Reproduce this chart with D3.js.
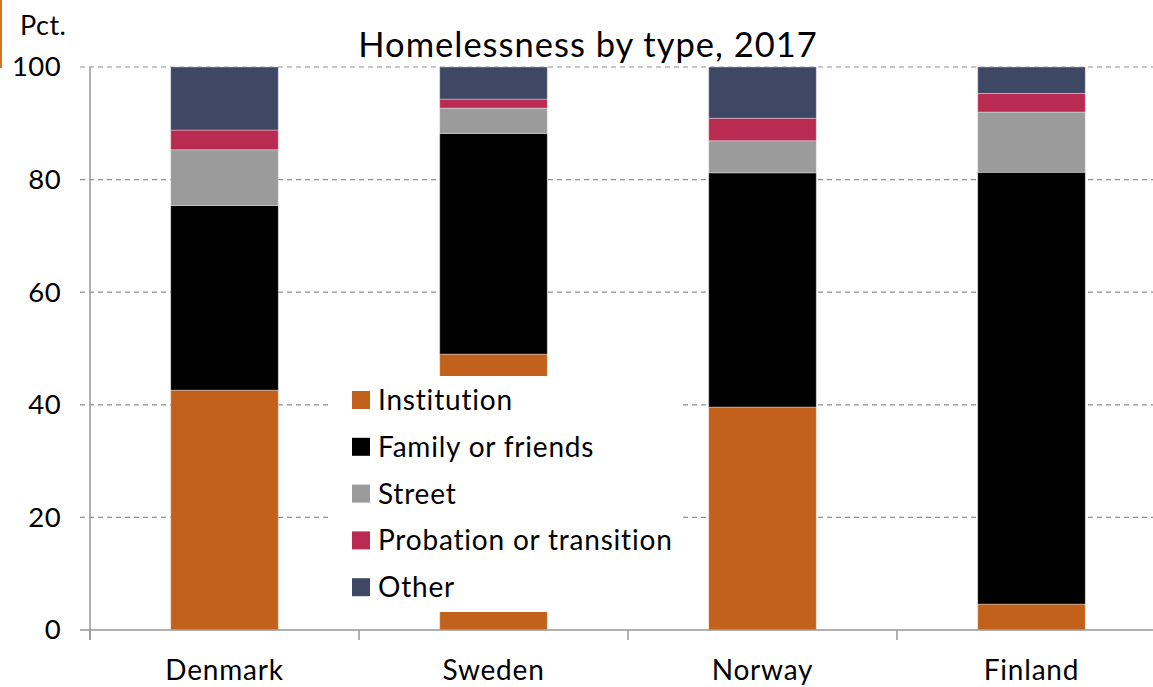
<!DOCTYPE html>
<html>
<head>
<meta charset="utf-8">
<script src="https://cdn.jsdelivr.net/npm/d3@7"></script>
<style>
  html, body { margin: 0; padding: 0; background: #fff; }
  svg { display: block; font-family: Lato, "Open Sans", sans-serif; }
</style>
</head>
<body>
<svg id="chart" width="1153" height="687"></svg>
<script>
const categories = ["Denmark", "Sweden", "Norway", "Finland"];
const seriesNames = ["Institution", "Family or friends", "Street", "Probation or transition", "Other"];
const institution = [42.6, 49.0, 39.6, 4.6];
const familyOrFriends = [32.8, 39.2, 41.6, 76.7];
const street = [9.9, 4.5, 5.7, 10.7];
const probation = [3.5, 1.6, 4.0, 3.3];
const other = [11.2, 5.7, 9.1, 4.7];
const yTicks = [0, 20, 40, 60, 80, 100];
const colors = ["#C1611C", "#000000", "#9B9B9B", "#BA2B51", "#3E4764"];

(function () {
const svg = d3.select("#chart");
const W = 1153;
const mLeft = 90, mRight = 1166, mTop = 67, mBottom = 630;

const x = d3.scaleBand().domain(categories).range([mLeft, mRight]).paddingInner(0.6).paddingOuter(0.3);
const y = d3.scaleLinear().domain([0, 100]).range([mBottom, mTop]);

const rows = categories.map((c, i) => ({
  cat: c,
  "Institution": institution[i],
  "Family or friends": familyOrFriends[i],
  "Street": street[i],
  "Probation or transition": probation[i],
  "Other": other[i]
}));
const stacked = d3.stack().keys(seriesNames)(rows);

// orange accent at top-left
svg.append("rect").attr("x", 0).attr("y", 0).attr("width", 2).attr("height", 68).attr("fill", "#D9731F");

// gridlines
svg.append("g").selectAll("line").data(yTicks.filter(d => d > 0)).join("line")
  .attr("x1", mLeft - 10).attr("x2", W)
  .attr("y1", d => y(d)).attr("y2", d => y(d))
  .attr("stroke", "#8f8f8f").attr("stroke-width", 1.2).attr("stroke-dasharray", "5,4");

// bars
svg.append("g").selectAll("g").data(stacked).join("g")
  .attr("fill", (d, i) => colors[i])
  .selectAll("rect").data(d => d).join("rect")
  .attr("x", d => x(d.data.cat))
  .attr("width", x.bandwidth())
  .attr("y", d => y(d[1]))
  .attr("height", d => y(d[0]) - y(d[1]))
  .attr("stroke", "rgba(255,255,255,0.35)").attr("stroke-width", 1);

// y axis
const yAxis = d3.axisLeft(y).tickValues(yTicks).tickSize(0).tickPadding(29);
const gy = svg.append("g").attr("transform", `translate(${mLeft},0)`).call(yAxis);
gy.select(".domain").remove();
gy.selectAll("text").attr("font-size", 27.5).attr("fill", "#000").attr("font-family", "Lato, sans-serif")
  .attr("letter-spacing", 0.4);
svg.append("line").attr("x1", mLeft).attr("x2", mLeft).attr("y1", mTop).attr("y2", mBottom + 10)
  .attr("stroke", "#999").attr("stroke-width", 1.5);

// x axis
svg.append("line").attr("x1", mLeft - 10).attr("x2", W).attr("y1", mBottom).attr("y2", mBottom)
  .attr("stroke", "#999").attr("stroke-width", 1.5);
const step = x.step();
const bounds = d3.range(categories.length + 1).map(i => mLeft + i * step);
svg.append("g").selectAll("line").data(bounds).join("line")
  .attr("x1", d => d).attr("x2", d => d).attr("y1", mBottom).attr("y2", mBottom + 10)
  .attr("stroke", "#999").attr("stroke-width", 1.5);
const xAxis = d3.axisBottom(x).tickSize(0).tickPadding(50);
const gx = svg.append("g").attr("transform", `translate(0,${mBottom})`).call(xAxis);
gx.select(".domain").remove();
gx.selectAll("text").attr("font-size", 28).attr("dy", 0).attr("fill", "#000").attr("font-family", "Lato, sans-serif")
  .attr("letter-spacing", 0.8);

// title
svg.append("text").attr("x", 588).attr("y", 57).attr("text-anchor", "middle")
  .attr("font-size", 34.5).attr("letter-spacing", 1).attr("fill", "#000").text("Homelessness by type, 2017");
svg.append("text").attr("x", 20).attr("y", 35).attr("font-size", 27).attr("letter-spacing", 0.5)
  .attr("fill", "#000").text("Pct.");

// legend
const lg = svg.append("g");
lg.append("rect").attr("x", 330).attr("y", 376).attr("width", 353).attr("height", 236).attr("fill", "#fff");
const li = lg.selectAll("g").data(seriesNames).join("g")
  .attr("transform", (d, i) => `translate(352,${391 + i * 46.8})`);
li.append("rect").attr("width", 18).attr("height", 18).attr("fill", (d, i) => colors[i]);
li.append("text").attr("x", 26).attr("y", 19).attr("font-size", 28).attr("letter-spacing", 0.8)
  .attr("fill", "#000").text(d => d);
})();
</script>
</body>
</html>
